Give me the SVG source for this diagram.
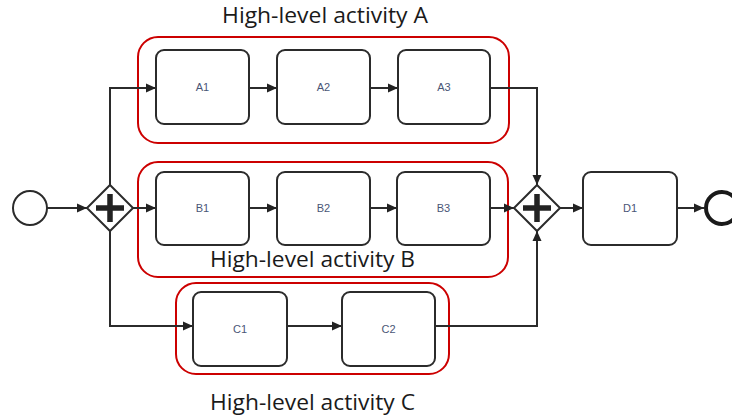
<svg xmlns="http://www.w3.org/2000/svg" width="732" height="419" viewBox="0 0 732 419">
  <style>
    .task rect { fill: #ffffff; stroke: #2b2b2b; stroke-width: 2; }
    .task text { font-family: "Liberation Sans", Arial, sans-serif; font-size: 11px; fill: #4a5676; text-anchor: middle; }
    .group rect { fill: none; stroke: #cc0000; stroke-width: 2; }
    .caption { font-family: "Open Sans", "Liberation Sans", sans-serif; font-size: 21px; fill: #1a1a1a; }
    .flow { fill: none; stroke: #2b2b2b; stroke-width: 2; marker-end: url(#arrow); }
    .gw polygon { fill: #ffffff; stroke: #2b2b2b; stroke-width: 2; }
    .gw path { stroke: #222222; stroke-width: 5.5; fill: none; }
  </style>
  <defs>
    <marker id="arrow" viewBox="0 0 10 10" refX="10" refY="5" markerWidth="10" markerHeight="10" markerUnits="userSpaceOnUse" orient="auto">
      <path d="M0,0.5 L10,5 L0,9.5 z" fill="#222222"/>
    </marker>
  </defs>

  <rect width="732" height="419" fill="#ffffff"/>

  <!-- high-level activity groupings -->
  <g id="group-a" class="group">
    <rect x="138" y="37" width="371" height="106" rx="20"/>
    <text class="caption" x="222" y="23" textLength="206" lengthAdjust="spacingAndGlyphs">High-level activity A</text>
  </g>
  <g id="group-b" class="group">
    <rect x="138" y="162" width="370" height="115" rx="20"/>
    <text class="caption" x="210" y="267" textLength="205" lengthAdjust="spacingAndGlyphs">High-level activity B</text>
  </g>
  <g id="group-c" class="group">
    <rect x="176" y="283" width="273" height="91" rx="20"/>
    <text class="caption" x="210" y="410" textLength="205" lengthAdjust="spacingAndGlyphs">High-level activity C</text>
  </g>

  <!-- sequence flows -->
  <g id="connectors">
    <path class="flow" d="M47,208 H87"/>
    <path class="flow" d="M110,185 V88 H156"/>
    <path class="flow" d="M133,208 H156"/>
    <path class="flow" d="M110,231 V326 H193"/>
    <path class="flow" d="M249,88 H277"/>
    <path class="flow" d="M370,88 H398"/>
    <path class="flow" d="M249,208 H277"/>
    <path class="flow" d="M370,208 H397"/>
    <path class="flow" d="M287,326 H342"/>
    <path class="flow" d="M490,88 H537 V185"/>
    <path class="flow" d="M490,208 H514"/>
    <path class="flow" d="M435,326 H537 V231"/>
    <path class="flow" d="M560,208 H583"/>
    <path class="flow" d="M677,208 H704"/>
  </g>

  <!-- events -->
  <g id="start">
    <circle cx="30" cy="208" r="17" fill="#ffffff" stroke="#2b2b2b" stroke-width="2"/>
  </g>
  <g id="end">
    <circle cx="722" cy="208" r="16" fill="#ffffff" stroke="#1a1a1a" stroke-width="4"/>
  </g>

  <!-- parallel gateways -->
  <g id="split" class="gw">
    <polygon points="110,185 133,208 110,231 87,208"/>
    <path d="M96,208 H124 M110,194 V222"/>
  </g>
  <g id="join" class="gw">
    <polygon points="537,185 560,208 537,231 514,208"/>
    <path d="M523,208 H551 M537,194 V222"/>
  </g>

  <!-- tasks -->
  <g id="a1" class="task"><rect x="156" y="50" width="93" height="74" rx="8"/><text x="202.5" y="91">A1</text></g>
  <g id="a2" class="task"><rect x="277" y="50" width="93" height="74" rx="8"/><text x="323.5" y="91">A2</text></g>
  <g id="a3" class="task"><rect x="398" y="50" width="92" height="74" rx="8"/><text x="444" y="91">A3</text></g>
  <g id="b1" class="task"><rect x="156" y="172" width="93" height="73" rx="8"/><text x="202.5" y="212">B1</text></g>
  <g id="b2" class="task"><rect x="277" y="172" width="93" height="73" rx="8"/><text x="323.5" y="212">B2</text></g>
  <g id="b3" class="task"><rect x="397" y="172" width="93" height="73" rx="8"/><text x="443.5" y="212">B3</text></g>
  <g id="c1" class="task"><rect x="193" y="292" width="94" height="74" rx="8"/><text x="240" y="333">C1</text></g>
  <g id="c2" class="task"><rect x="342" y="292" width="93" height="74" rx="8"/><text x="388.5" y="333">C2</text></g>
  <g id="d1" class="task"><rect x="583" y="172" width="94" height="73" rx="8"/><text x="630" y="212">D1</text></g>
</svg>
